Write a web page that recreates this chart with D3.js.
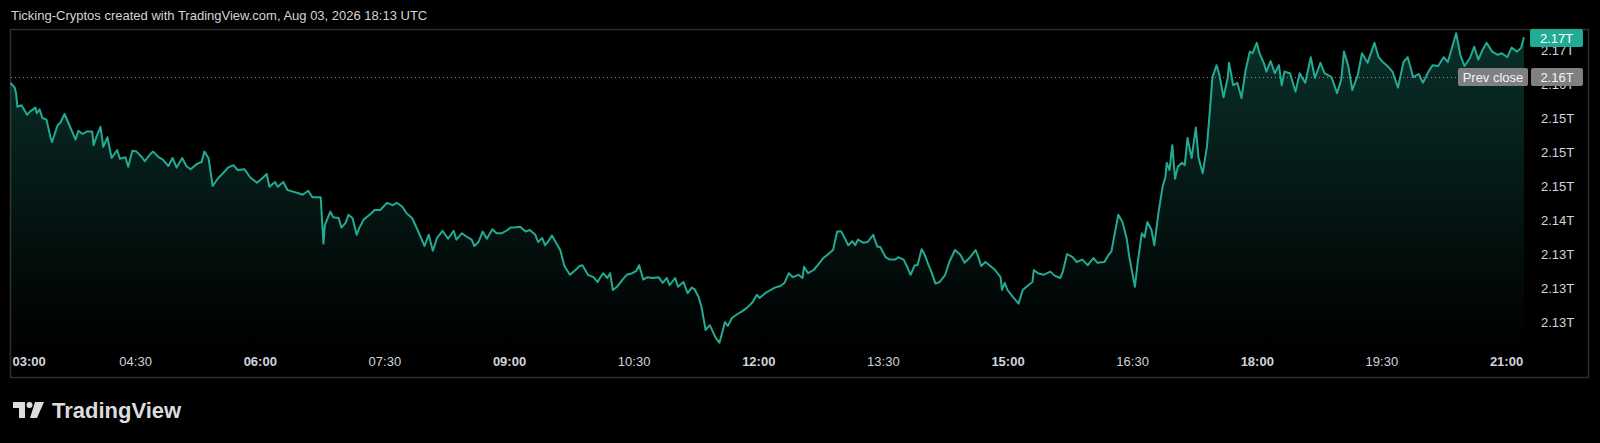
<!DOCTYPE html>
<html>
<head>
<meta charset="utf-8">
<script src="https://cdn.jsdelivr.net/npm/d3@7"></script>
<style>
  html, body { margin: 0; padding: 0; background: #000; overflow: hidden; }
  svg { display: block; }
</style>
</head>
<body>
<script>
// Total crypto market cap, Aug 03 2026 (billions USD)
// minutes after 03:00
var minutes = [
  0, 3, 4, 5, 8, 12, 14, 18, 19, 21,
  23, 26, 29, 30, 34, 36, 39, 44, 47, 49,
  52, 55, 59, 60, 62, 65, 67, 70, 73, 77,
  79, 83, 85, 88, 91, 95, 97, 101, 103, 107,
  110, 114, 117, 120, 124, 127, 130, 135, 138, 140,
  143, 146, 150, 153, 157, 161, 164, 169, 173, 178,
  182, 185, 187, 191, 193, 197, 200, 204, 208, 211,
  215, 218, 222, 224, 226, 227, 231, 233, 237, 239,
  242, 244, 247, 250, 252, 255, 260, 263, 267, 272,
  276, 279, 283, 286, 290, 294, 297, 299, 302, 305,
  308, 312, 316, 320, 322, 326, 330, 333, 335, 338,
  341, 344, 348, 351, 355, 359, 361, 364, 368, 372,
  375, 379, 381, 384, 386, 388, 391, 395, 397, 400,
  404, 408, 411, 413, 417, 421, 424, 426, 428, 431,
  433, 435, 438, 442, 445, 449, 452, 454, 457, 460,
  464, 468, 471, 474, 476, 480, 482, 486, 489, 492,
  494, 497, 499, 502, 505, 509, 512, 516, 518, 521,
  525, 528, 532, 536, 539, 541, 545, 549, 552, 556,
  559, 562, 565, 569, 572, 573, 576, 580, 583, 587,
  590, 594, 597, 600, 603, 605, 608, 610, 612, 616,
  619, 623, 626, 628, 632, 635, 639, 641, 645, 647,
  650, 653, 655, 658, 660, 663, 665, 668, 671, 675,
  678, 682, 686, 689, 693, 697, 699, 701, 704, 707,
  711, 715, 716, 718, 720, 724, 728, 731, 735, 738,
  739, 742, 746, 751, 754, 758, 760, 763, 767, 770,
  774, 778, 782, 785, 790, 793, 795, 800, 803, 806,
  808, 812, 814, 817, 819, 821, 824, 826, 829, 832,
  834, 835, 837, 839, 841, 843, 846, 848, 850, 853,
  856, 858, 861, 864, 866, 868, 871, 873, 876, 879,
  880, 883, 886, 889, 892, 895, 897, 900, 902, 905,
  907, 910, 913, 916, 918, 920, 924, 928, 931, 935,
  939, 942, 946, 949, 954, 958, 961, 963, 966, 969,
  973, 976, 980, 985, 988, 991, 995, 998, 1002, 1006,
  1009, 1013, 1017, 1020, 1024, 1027, 1031, 1035, 1038, 1044,
  1047, 1050, 1054, 1057, 1060, 1063, 1066, 1070, 1074, 1077,
  1081, 1084, 1088, 1091, 1093
];

var capB = [
  2159.9, 2159.3, 2158.6, 2156.9, 2157.1, 2155.9, 2156.3, 2156.8, 2156.1, 2156.6,
  2155.5, 2155.3, 2153.0, 2152.5, 2154.6, 2154.9, 2156.0, 2154.0, 2152.8, 2153.9,
  2153.5, 2153.8, 2153.8, 2152.1, 2153.1, 2154.4, 2151.9, 2153.1, 2150.5, 2151.5,
  2150.4, 2150.6, 2149.4, 2151.4, 2151.3, 2150.6, 2150.1, 2151.0, 2151.3, 2150.6,
  2150.3, 2149.5, 2150.5, 2149.3, 2150.5, 2149.5, 2149.1, 2149.8, 2150.0, 2151.3,
  2150.5, 2147.0, 2148.0, 2148.5, 2149.3, 2149.6, 2149.0, 2149.1, 2148.1, 2147.4,
  2148.0, 2148.5, 2146.9, 2147.5, 2146.9, 2147.5, 2146.5, 2146.3, 2146.1, 2145.9,
  2146.4, 2145.6, 2145.6, 2145.6, 2139.8, 2142.1, 2143.8, 2143.1, 2143.0, 2141.8,
  2142.4, 2143.4, 2143.0, 2140.9, 2141.8, 2142.8, 2143.5, 2144.0, 2144.0, 2144.9,
  2144.6, 2144.9, 2144.4, 2143.6, 2143.0, 2141.5, 2140.3, 2139.5, 2140.9, 2138.9,
  2140.5, 2141.4, 2140.4, 2141.4, 2140.3, 2141.1, 2140.6, 2140.3, 2139.5, 2140.0,
  2141.3, 2140.4, 2141.6, 2141.1, 2141.1, 2141.5, 2141.8, 2141.8, 2141.9, 2141.3,
  2141.5, 2140.9, 2140.0, 2140.5, 2139.6, 2140.0, 2140.8, 2139.6, 2139.0, 2137.0,
  2135.9, 2136.5, 2137.0, 2137.1, 2135.9, 2135.6, 2135.0, 2135.6, 2136.1, 2135.5,
  2136.1, 2134.0, 2134.4, 2135.3, 2135.9, 2136.1, 2136.4, 2137.1, 2135.3, 2135.6,
  2135.5, 2135.6, 2134.9, 2135.5, 2134.6, 2135.5, 2134.4, 2135.0, 2133.6, 2134.3,
  2134.1, 2133.1, 2131.9, 2129.0, 2129.6, 2128.1, 2127.4, 2130.0, 2129.5, 2130.5,
  2131.0, 2131.3, 2131.8, 2132.5, 2133.4, 2133.0, 2133.6, 2134.0, 2134.3, 2134.5,
  2134.9, 2136.1, 2135.6, 2135.9, 2135.5, 2136.9, 2136.1, 2136.5, 2137.1, 2138.0,
  2138.4, 2139.0, 2141.3, 2141.3, 2140.3, 2139.6, 2140.1, 2139.6, 2140.3, 2139.9,
  2140.0, 2140.9, 2139.4, 2139.4, 2138.1, 2137.8, 2137.8, 2138.1, 2137.8, 2137.1,
  2135.9, 2137.1, 2137.1, 2139.1, 2138.5, 2137.1, 2136.3, 2134.8, 2135.0, 2135.9,
  2137.5, 2139.0, 2138.4, 2137.4, 2138.1, 2139.0, 2138.1, 2137.0, 2137.5, 2137.1,
  2136.5, 2135.6, 2134.0, 2134.9, 2134.0, 2133.1, 2132.3, 2134.0, 2134.6, 2135.0,
  2136.5, 2136.1, 2135.9, 2136.3, 2135.8, 2135.5, 2136.3, 2138.5, 2138.1, 2137.5,
  2137.8, 2137.1, 2138.0, 2137.4, 2137.5, 2138.4, 2138.8, 2143.4, 2142.5, 2140.5,
  2138.1, 2134.4, 2137.4, 2141.1, 2140.6, 2142.5, 2141.5, 2139.6, 2143.6, 2146.9,
  2148.1, 2149.9, 2149.0, 2152.1, 2147.9, 2149.4, 2149.9, 2149.6, 2153.0, 2150.5,
  2154.3, 2150.5, 2148.6, 2151.9, 2156.1, 2160.6, 2162.1, 2160.9, 2158.1, 2160.5,
  2162.4, 2159.6, 2159.9, 2158.0, 2161.5, 2163.8, 2163.6, 2164.9, 2163.6, 2162.4,
  2161.3, 2162.6, 2161.1, 2162.1, 2159.6, 2161.3, 2161.1, 2158.8, 2161.1, 2159.9,
  2163.1, 2160.5, 2162.4, 2161.1, 2160.6, 2158.6, 2160.3, 2163.8, 2162.1, 2159.0,
  2160.9, 2163.6, 2162.4, 2164.9, 2163.1, 2162.5, 2161.9, 2161.3, 2159.3, 2162.5,
  2163.1, 2160.6, 2161.0, 2159.9, 2161.3, 2162.1, 2162.0, 2163.1, 2162.5, 2166.1,
  2163.4, 2162.0, 2163.0, 2164.4, 2162.8, 2164.0, 2164.9, 2163.8, 2163.4, 2163.6,
  2163.1, 2164.3, 2163.8, 2164.3, 2165.6
];

var prevClose = 2160.6;
var lastText = '2.17T';
var prevText = '2.16T';

var priceTicks = [2164, 2159.75, 2155.5, 2151.25, 2147, 2142.75, 2138.5, 2134.25, 2130];
var priceLabels = ['2.17T', '2.16T', '2.15T', '2.15T', '2.15T', '2.14T', '2.13T', '2.13T', '2.13T'];

var timeLabels = ['03:00', '04:30', '06:00', '07:30', '09:00', '10:30', '12:00',
                  '13:30', '15:00', '16:30', '18:00', '19:30', '21:00'];

var W = 1600, H = 443;
var font = '"Liberation Sans", Arial, sans-serif';

var svg = d3.select('body').append('svg')
    .attr('width', W)
    .attr('height', H)
    .style('background', '#000')

var parse = d3.timeParse('%Y-%m-%d %H:%M');
var day = '2026-08-03 ';
var start = parse(day + '03:00');
var timeTicks = timeLabels.map(function (s) { return parse(day + s) });

var points = minutes.map(function (m, i) {
    return { t: d3.timeMinute.offset(start, m), v: capB[i] }
});

var x = d3.scaleTime()
    .domain([timeTicks[0], timeTicks[timeTicks.length - 1]])
    .range([10.5, 1506]);

var y = d3.scaleLinear()
    .domain([2130, 2164])
    .range([322, 50]);

var paneBottom = 347;
var paneRight = 1527;

// header
svg.append('text')
    .attr('x', 11)
    .attr('y', 20)
    .attr('fill', '#d1d4dc')
    .style('font-family', font)
    .style('font-size', '13px')
    .text('Ticking-Cryptos created with TradingView.com, Aug 03, 2026 18:13 UTC');

// frame
svg.append('rect')
    .attr('x', 10.5)
    .attr('y', 29.5)
    .attr('width', 1578)
    .attr('height', 348)
    .attr('fill', 'none')
    .attr('stroke', '#2e2e2e')
    .attr('stroke-width', 1.5);

// area gradient
var defs = svg.append('defs');
var grad = defs.append('linearGradient')
    .attr('id', 'areaFill')
    .attr('gradientUnits', 'userSpaceOnUse')
    .attr('x1', 0).attr('x2', 0)
    .attr('y1', y(d3.max(capB))).attr('y2', paneBottom);
grad.append('stop').attr('offset', 0).attr('stop-color', '#22ab94').attr('stop-opacity', 0.28);
grad.append('stop').attr('offset', 1).attr('stop-color', '#22ab94').attr('stop-opacity', 0);

var area = d3.area()
    .x(function (d) { return x(d.t) })
    .y0(paneBottom)
    .y1(function (d) { return y(d.v) });

var line = d3.line()
    .x(function (d) { return x(d.t) })
    .y(function (d) { return y(d.v) });

svg.append('path')
    .datum(points)
    .attr('d', area)
    .attr('fill', 'url(#areaFill)');

// previous close dotted line
svg.append('line')
    .attr('x1', 11)
    .attr('x2', paneRight)
    .attr('y1', Math.round(y(prevClose)) + 0.5)
    .attr('y2', Math.round(y(prevClose)) + 0.5)
    .attr('stroke', '#8a8a8a')
    .attr('stroke-width', 1)
    .attr('stroke-dasharray', '1,3');

svg.append('path')
    .datum(points)
    .attr('d', line)
    .attr('fill', 'none')
    .attr('stroke', '#22ab94')
    .attr('stroke-width', 2)
    .attr('stroke-linejoin', 'round');

// price scale
var yAxis = svg.append('g')
    .attr('transform', 'translate(1541,0)')
    .call(d3.axisRight(y)
        .tickValues(priceTicks)
        .tickFormat(function (d, i) { return priceLabels[i] })
        .tickSize(0)
        .tickPadding(0));
yAxis.select('.domain').remove();
yAxis.selectAll('text')
    .attr('fill', '#d1d4dc')
    .style('font-family', font)
    .style('font-size', '13px');

// time scale
var xAxis = svg.append('g')
    .attr('transform', 'translate(0,357)')
    .call(d3.axisBottom(x)
        .tickValues(timeTicks)
        .tickFormat(function (d, i) { return timeLabels[i] })
        .tickSize(0)
        .tickPadding(0));
xAxis.select('.domain').remove();
xAxis.selectAll('text')
    .attr('fill', '#d1d4dc')
    .style('font-family', font)
    .style('font-size', '13px')
    .style('font-weight', function (d, i) { return d.getHours() % 3 === 0 && d.getMinutes() === 0 ? 'bold' : 'normal' })
    .attr('text-anchor', function (d, i) { return i === 0 ? 'start' : 'middle' })
    .attr('x', function (d, i) { return i === 0 ? 1.5 : 0 });

// last value label
var last = points[points.length - 1];
var ly = Math.round(y(last.v));
svg.append('rect')
    .attr('x', 1530).attr('y', ly - 8)
    .attr('width', 53).attr('height', 18)
    .attr('rx', 2)
    .attr('fill', '#22ab94');
svg.append('text')
    .attr('x', 1556.5).attr('y', ly + 5.5)
    .attr('text-anchor', 'middle')
    .attr('fill', '#ffffff')
    .style('font-family', font)
    .style('font-size', '13px')
    .text(lastText);

// prev close labels
var py = Math.round(y(prevClose));
svg.append('rect')
    .attr('x', 1458).attr('y', py - 9)
    .attr('width', 70).attr('height', 18)
    .attr('rx', 2)
    .attr('fill', '#808080');
svg.append('text')
    .attr('x', 1493).attr('y', py + 4.5)
    .attr('text-anchor', 'middle')
    .attr('fill', '#f0f3fa')
    .style('font-family', font)
    .style('font-size', '13px')
    .text('Prev close');
svg.append('rect')
    .attr('x', 1531).attr('y', py - 9)
    .attr('width', 52).attr('height', 18)
    .attr('rx', 2)
    .attr('fill', '#808080');
svg.append('text')
    .attr('x', 1557).attr('y', py + 4.5)
    .attr('text-anchor', 'middle')
    .attr('fill', '#f0f3fa')
    .style('font-family', font)
    .style('font-size', '13px')
    .text(prevText);

// TradingView logo
var logo = svg.append('g').attr('fill', '#dcdcdc');
logo.append('path').attr('d', 'M13,402 H25 V418 H19 V408 H13 Z');
logo.append('circle').attr('cx', 29.5).attr('cy', 405).attr('r', 3);
logo.append('path').attr('d', 'M35,402 H44 L37,418 H30 Z');
logo.append('text')
    .attr('x', 52)
    .attr('y', 418)
    .style('font-family', font)
    .style('font-size', '22px')
    .style('font-weight', 'bold')
    .text('TradingView');
</script>
</body>
</html>
